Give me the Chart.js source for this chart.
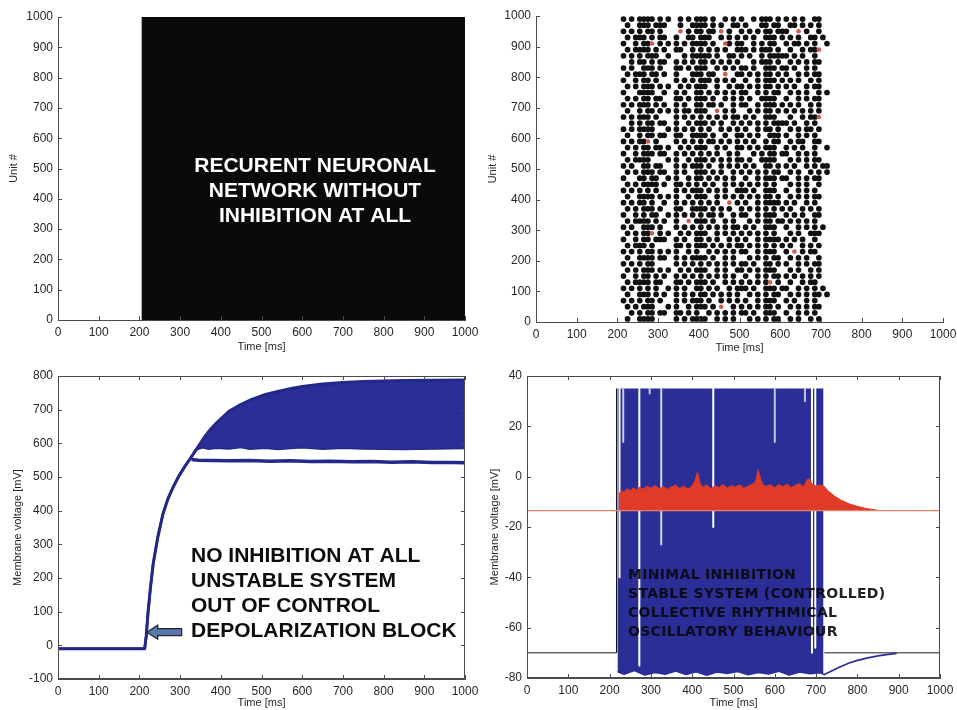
<!DOCTYPE html>
<html>
<head>
<meta charset="utf-8">
<script src="https://cdn.jsdelivr.net/npm/chart.js@4.4.0/dist/chart.umd.min.js"></script>
<style>
  html, body { margin: 0; padding: 0; background: #fff; }
  body { width: 957px; height: 710px; position: relative; overflow: hidden; }
  .panel { position: absolute; }
  canvas { display: block; }
</style>
</head>
<body>
<div class="panel" style="left:0;top:0"><canvas id="rasterNoInh" width="478" height="360"></canvas></div>
<div class="panel" style="left:478px;top:0"><canvas id="rasterMinInh" width="479" height="360"></canvas></div>
<div class="panel" style="left:0;top:360px"><canvas id="vmNoInh" width="478" height="350"></canvas></div>
<div class="panel" style="left:478px;top:360px"><canvas id="vmMinInh" width="479" height="350"></canvas></div>

<script>
// ---- shared axes data ----
const timeTicks = [0, 100, 200, 300, 400, 500, 600, 700, 800, 900, 1000];
const unitCount = 1000;

// ---- raster, no inhibition: every unit fires continuously after onset ----
const burstOnset = 205;
const simEnd = 1000;
const captionNoInh = ['RECURENT NEURONAL', 'NETWORK WITHOUT', 'INHIBITION AT ALL'];

// ---- raster, minimal inhibition ----
// one row per 20 units (top to bottom), one column per 10 ms bin;
// 'o' excitatory spike, 'r' inhibitory spike, '.' silent
const rasterBins = [215, 225, 235, 245, 255, 265, 275, 285, 295, 305,
                    315, 325, 335, 345, 355, 365, 375, 385, 395, 405,
                    415, 425, 435, 445, 455, 465, 475, 485, 495, 505,
                    515, 525, 535, 545, 555, 565, 575, 585, 595, 605,
                    615, 625, 635, 645, 655, 665, 675, 685, 695, 705, 715];
const rasterUnits = [990, 970, 950, 930, 910, 890, 870, 850, 830, 810,
                     790, 770, 750, 730, 710, 690, 670, 650, 630, 610,
                     590, 570, 550, 530, 510, 490, 470, 450, 430, 410,
                     390, 370, 350, 330, 310, 290, 270, 250, 230, 210,
                     190, 170, 150, 130, 110, 90, 70, 50, 30, 10];
const rasterRows = [
  "o.o.oooo.o .o..o.o.oo o.o..o.o.o ..o.ooo.o. o.o.o..oo. .",
  ".o..ooo.oo o...o..ooo o.o.o..oo. o...oo.oo. .oo.o.o.o. .",
  "o.o.o.oo.o ....r.o.oo .oo.r.o..o .o.o.oo.oo o..r.o..o. .",
  ".o.ooo.o.o o..o..oo.o oo..o.o.o. o.o..ooo.o .o.o..oo.o .",
  "o..o.oor.o .o.o.o.ooo o.o..ro.oo ..o.o.oo.. o.oo.o.o.. o",
  ".o.oooo.o. o..oo..o.o .o.o.o..oo o.o.ooo.o. .o..o.oor. .",
  "o.o.o.ooo. .o...o.ooo oo.o..oo.o .o..o.oooo o.o.o..o.. .",
  "..o.oo.o.o o..o.o.o.o o.o.o.o.o. ..o.ooo.o. .o.o.o.oo. .",
  "o.o..ooo.o ...oo.o.oo o..o.o.o.o o.o..ooo.o o.o..o.o.. .",
  ".o.ooo.oo. o..o...ooo .oo..r..oo .o.o.oo.o. o..o.o.oo. .",
  "o..o.oo.o. ...o.o.o.o oo.o.o.o.. o..o.ooo.o .o.o..o.o. .",
  ".o.o.ooo.o .o..o.o.oo o..o..o.oo .o.o.oo.o. o.o..o.oo. .",
  "o...oooo.. o..o.o..oo .o.o.o.o.o o..o.o.oo. .o.o.o..o. o",
  ".o.o.oo.oo ...oo.o.oo o.o..o.o.o .o..oooo.. o..o.o.oo. .",
  "o.o.ooo.o. o..o.o..oo .oo.o..o.o o..o.ooo.o .o.o..o.o. .",
  ".o..o.oo.o .o.o.oo.oo o..r.o.o.. .o.o.oo.o. o.o.o.o.o. .",
  "o.o.ooo.o. ...o.o.o.o .o.o.o.oo. o.o..ooo.. .o..o.oor. .",
  "..o.o.oo.o o..o..o.oo o.o.o..o.o .o.o.o.ooo o.o..o.o.. .",
  "o.o.oooo.. .o.o.o.o.o .o..o.o.o. o..o.oo.o. .o.o.oo.o. .",
  ".o..o.oo.o o..oo..ooo o.o..o..oo .o.o..ooo. o..o.o.o.. .",
  "o.o.oor.o. ...o.o.o.o .oo.o.o.o. o.o..o.oo. .o.oo..oo. .",
  ".o.o.oo.oo .o..o.o.oo o..o.o..oo .o.o.ooo.. o.o.o..o.. o",
  "o..o.ooo.o o..o.o.o.o .o.o..o.o. ..o.o.oo.o o..o.o.o.. .",
  ".o.oooo... .o.o..o.oo o.o.o.o.oo .o..oooo.. .o.o.o.oo. .",
  "o.o..oo.oo ...o.o.ooo .o..o.o.o. o.o..oo.o. o.o..o.o.o o",
  ".o.o.ooo.o o..o.o..oo o.o.o..o.o .o.o.o.oo. .o.o..o.o. o",
  "o...oo.oo. .o.o..o.oo .o.o.o.o.. o..o.ooo.o o..o.o.oo. .",
  ".o.o.oooo. o..oo.o.o. o.o..o.o.o .o.o.o.o.. .o.o.o..o. .",
  "o.o.o.o.o. ...o.o.ooo .o.o.o..oo o.o..ooo.. o..o.o.o.. .",
  ".o..oooo.o .o.o..o.oo o..o.o.o.o .o.o.oo.o. .o.o.o.oo. .",
  "o.o.oo.o.. o..o.o.o.o .o.o..r.o. o..o.oooo. o.o..o.o.. .",
  ".o.o.ooo.o ...oo..ooo o.o.o.o..o .o.o.o.o.o .o..o.o.o. .",
  "o..o.o.oo. .o.o.o.o.o .oo.o..o.o o..o.ooo.. o.o.o..oo. .",
  ".o.oooo.o. o..o..r.oo o.o..o.o.. .o.o.oo.oo .o.o.o.o.. .",
  "o.o..ooo.o ...o.o.o.o .o.o.o.oo. o.o..ooo.. o..o.o.o.o .",
  ".o.o.oor.o .o..o.o.oo o..o.o.o.o .o.o.o.o.. .o.o..ooo. .",
  "o..o.oo.oo o..o.o..oo .o.o..o.o. o..o.oooo. o.o.o..o.. .",
  ".o.ooo.o.. ...oo.o.oo o.o.o.o.oo .o.o.o.o.o .o..o.o.o. .",
  "o.o.o.oo.o .o.o..o.o. .o.o.o.o.o o..o.ooo.. o.r.o.oo.. .",
  ".o..oooo.o o..o.o.ooo o.o..o.o.. .o.o.o.oo. .o.o.o..o. .",
  "o.o.o.oo.. ...o.o.o.o .o.o.o.o.o o.o..oo.o. o..o.o.oo. .",
  ".o.o.ooo.o .o..o.o.oo o..o.o..oo .o.o.ooo.. .o.o..o.o. .",
  "o..o.oo.o. o..o.o.o.o .o.o.o.o.. o..o.o.oo. o.o.o.o.o. .",
  ".o.oooo.oo ...oo.o.oo o.o..o.o.o .o.o.or.o. .o..o.oo.. .",
  "o.o.o.o.o. .o.o.o..oo .o.o..o.oo o.o..ooo.o o..o.o.o.o .",
  ".o..ooo.o. o..o.o.o.o o.o.o.o.o. .o.o.o.oo. .o.o.o.oo. o",
  "o.o.o.oo.o ...o.o.ooo .o..o.o.o. o..o.ooo.. o.o..o.o.. .",
  ".o.o.ooo.. .o.o..o.oo o.o.r..o.o .o.o.oo.o. .o.o.o.oo. .",
  "..o.o.oo.o o..oo.o.o. .o.o.o.o.o o.o..ooo.. o..o.o.o.. .",
  ".o..oooo.. ...o.o.ooo o..o.o.o.. .o.o.o.oo. .o.o..o.o. ."
];

// ---- membrane voltage, no inhibition ----
const vmTimes  = [0, 213, 217, 221, 227, 234, 245, 258, 270, 283, 297, 311, 325, 340, 355,
                  370, 389, 420, 450, 471, 510, 540, 570, 600, 650, 700, 750, 850, 1000];
const vmUpper  = [-10, -10, 30, 94, 170, 243, 320, 391, 435, 470, 503, 530, 555, 582, 610,
                  635, 660, 695, 716, 728, 745, 754, 762, 769, 776, 781, 784, 787, 788];
const vmLower  = [-10, -10, 30, 94, 170, 243, 320, 391, 435, 470, 503, 530, 555, 582, 588,
                  584, 587, 585, 589, 584, 587, 583, 586, 588, 584, 587, 585, 583, 586];
const blockTraceTimes = [328, 345, 380, 420, 470, 520, 570, 620, 670, 720, 770, 820, 870, 920, 970, 1000];
const blockTraceVm    = [552, 550, 549, 548, 549, 547, 548, 546, 547, 545, 546, 544, 545, 543, 543, 542];
const captionNoInhVm = ['NO INHIBITION AT ALL', 'UNSTABLE SYSTEM', 'OUT OF CONTROL', 'DEPOLARIZATION BLOCK'];

// ---- membrane voltage, minimal inhibition ----
const excRest = -70;
const inhRest = -13.5;
const spikePeak = 35;
const restSpans = [[0, 217], [720, 1000]];
const firstSpikeTime = 217;
const burstTimes = [219, 235, 260, 285, 310, 335, 360, 385, 410, 435, 460,
                    485, 510, 535, 560, 585, 610, 635, 660, 685, 710, 718];
const burstFloor = [-77.5, -78.5, -77, -78.8, -77.8, -78.5, -77.2, -78.6, -77.5, -78.9, -77.6,
                    -78.2, -77.4, -78.7, -77.8, -78.4, -77.3, -78.8, -77.6, -78.3, -77.9, -78.5];
const recoveryTimes = [718, 730, 745, 760, 780, 800, 825, 850, 875, 895];
const recoveryVm    = [-78.8, -77.8, -76.6, -75.4, -74.0, -73.0, -72.0, -71.2, -70.6, -70.2];
// silent moments in the burst: time, lowest voltage reached, shade
const gapTimes = [224, 233, 272, 297, 325, 451, 600, 673, 690, 698];
const gapLows  = [-40, 13.8, -75, 33, -27, -20, 13.8, 30, -70, -68];
const gapShade = ['#ffffff', '#c9cbe0', '#ffffff', '#c9cbe0', '#d8d8e4', '#ffffff', '#c0c2d8', '#c0c2d8', '#ffffff', '#ffffff'];
const inhTimes = [222, 228, 235, 242, 250, 258, 265, 273, 280, 290, 300, 310, 320, 330, 340,
                  350, 360, 370, 380, 390, 400, 407, 413, 419, 425, 435, 445, 455, 465, 475,
                  485, 495, 505, 515, 525, 535, 545, 553, 560, 565, 570, 578, 590, 600, 610,
                  620, 630, 640, 650, 660, 670, 678, 684, 690, 700, 710, 718, 730, 745, 760,
                  780, 800, 820, 840, 855];
const inhTop   = [-7, -5.5, -6.2, -4.8, -5.6, -4.4, -5.3, -4.1, -5.0, -3.8, -4.6, -3.5, -4.8, -3.9, -5.1,
                  -4.0, -3.4, -4.7, -3.8, -4.9, -3.6, -1.5, 1.8, -2.5, -4.2, -3.3, -4.8, -3.7, -4.3, -3.1,
                  -4.5, -3.6, -4.1, -3.2, -4.6, -3.8, -3.0, -2.2, 2.8, -0.5, -2.8, -3.9, -3.2, -4.4, -3.1,
                  -4.0, -2.9, -4.3, -3.4, -2.8, -4.0, -1.2, -0.8, -2.9, -3.8, -3.3, -3.6, -5.8, -7.8, -9.3,
                  -10.8, -11.8, -12.6, -13.1, -13.5];
const captionMinInh = ['MINIMAL INHIBITION', 'STABLE SYSTEM (CONTROLLED)', 'COLLECTIVE RHYTHMICAL', 'OSCILLATORY BEHAVIOUR'];

// ---- styling ----
const FONT = "'Liberation Sans', Arial, Helvetica, sans-serif";
const INK = '#262626';
const AXIS = '#4a4a4a';
const BLUE = 'rgb(42, 46, 150)';
const DEEP_BLUE = 'rgb(36, 40, 136)';
const RED = 'rgb(224, 58, 40)';

const xy = (xs, ys) => xs.map((x, i) => ({ x, y: ys[i] }));
const plain = v => String(v);

function timeAxis(height, titlePad) {
  return {
    type: 'linear', min: 0, max: 1000,
    afterBuildTicks: s => { s.ticks = timeTicks.map(v => ({ value: v })); },
    ticks: { color: INK, font: { family: FONT, size: 12 }, padding: 5, maxRotation: 0, autoSkip: false, callback: plain },
    grid: { display: false, drawTicks: false },
    border: { display: true, color: AXIS, width: 1 },
    title: { display: true, text: 'Time [ms]', color: INK, font: { family: FONT, size: 11 }, padding: { top: 0, bottom: titlePad } },
    // keep the plot width fixed; the layout padding leaves room for the end labels
    afterFit: s => { s.height = height; s.paddingLeft = 0; s.paddingRight = 0; }
  };
}

function valueAxis(min, max, step, label, width, titlePad) {
  return {
    type: 'linear', min, max,
    ticks: { stepSize: step, color: INK, font: { family: FONT, size: 12 }, padding: 5, callback: plain },
    grid: { display: false, drawTicks: false },
    border: { display: true, color: AXIS, width: 1 },
    title: { display: true, text: label, color: INK, font: { family: FONT, size: 11 }, padding: { top: titlePad, bottom: 0 } },
    afterFit: s => { s.width = width; }
  };
}

// MATLAB-like inward tick marks, optionally with a full frame
function inwardTicks(box) {
  return {
    id: 'inwardTicks',
    afterDatasetsDraw(chart) {
      const { ctx, chartArea: a, scales: { x, y } } = chart;
      const len = 4;
      ctx.save();
      ctx.strokeStyle = AXIS;
      ctx.lineWidth = 1;
      ctx.beginPath();
      x.ticks.forEach(t => {
        const p = Math.round(x.getPixelForValue(t.value)) + 0.5;
        ctx.moveTo(p, a.bottom); ctx.lineTo(p, a.bottom - len);
        if (box) { ctx.moveTo(p, a.top); ctx.lineTo(p, a.top + len); }
      });
      y.ticks.forEach(t => {
        const p = Math.round(y.getPixelForValue(t.value)) + 0.5;
        ctx.moveTo(a.left, p); ctx.lineTo(a.left + len, p);
        if (box) { ctx.moveTo(a.right, p); ctx.lineTo(a.right - len, p); }
      });
      if (box) ctx.rect(a.left + 0.5, a.top + 0.5, a.right - a.left - 1, a.bottom - a.top - 1);
      ctx.stroke();
      ctx.restore();
    }
  };
}

function notes(draw) {
  return {
    id: 'notes',
    afterDraw(chart) {
      const ctx = chart.ctx;
      ctx.save();
      draw(ctx, chart);
      ctx.restore();
    }
  };
}

function baseOptions(padding, scales) {
  return {
    responsive: false,
    animation: false,
    devicePixelRatio: 1,
    events: [],
    layout: { padding },
    elements: { point: { radius: 0 }, line: { tension: 0, borderJoinStyle: 'round' } },
    plugins: { legend: { display: false }, tooltip: { enabled: false } },
    scales
  };
}

// ---- panel 1: raster without inhibition ----
new Chart(document.getElementById('rasterNoInh'), {
  type: 'line',
  data: {
    datasets: [{
      data: [{ x: burstOnset, y: unitCount }, { x: simEnd, y: unitCount }],
      borderWidth: 0,
      backgroundColor: '#0a0a0a',
      fill: { value: 0 }
    }]
  },
  options: baseOptions({ top: 17, right: 13, left: 0, bottom: 0 }, {
    x: timeAxis(40, 6.4),
    y: valueAxis(0, 1000, 100, 'Unit #', 58, 7.4)
  }),
  plugins: [inwardTicks(false), notes(ctx => {
    ctx.font = 'bold 21px ' + FONT;
    ctx.fillStyle = '#ffffff';
    ctx.textAlign = 'center';
    ctx.textBaseline = 'middle';
    captionNoInh.forEach((s, i) => ctx.fillText(s, 315, 166 + i * 25));
  })]
});

// ---- panel 2: raster with minimal inhibition ----
const excSpikes = [];
const inhSpikes = [];
rasterRows.forEach((row, r) => {
  const cells = row.replace(/ /g, '');
  for (let i = 0; i < cells.length && i < rasterBins.length; i++) {
    if (cells[i] === 'o') excSpikes.push({ x: rasterBins[i], y: rasterUnits[r] });
    else if (cells[i] === 'r') inhSpikes.push({ x: rasterBins[i], y: rasterUnits[r] });
  }
});

new Chart(document.getElementById('rasterMinInh'), {
  type: 'scatter',
  data: {
    datasets: [
      { data: inhSpikes, pointRadius: 2.3, backgroundColor: 'rgb(205, 95, 80)', borderWidth: 0, order: 1 },
      { data: excSpikes, pointRadius: 2.85, backgroundColor: '#111111', borderWidth: 0, order: 2 }
    ]
  },
  options: baseOptions({ top: 16, right: 14, left: 0, bottom: 0 }, {
    x: timeAxis(38, 5.4),
    y: valueAxis(0, 1000, 100, 'Unit #', 58, 8.4)
  }),
  plugins: [inwardTicks(false)]
});

// ---- panel 3: membrane voltage without inhibition ----
new Chart(document.getElementById('vmNoInh'), {
  type: 'line',
  data: {
    datasets: [
      { data: xy(vmTimes, vmUpper), borderColor: DEEP_BLUE, borderWidth: 3, backgroundColor: BLUE, fill: 1, order: 2 },
      { data: xy(vmTimes, vmLower), borderColor: DEEP_BLUE, borderWidth: 2.5, order: 2 },
      { data: xy(blockTraceTimes, blockTraceVm), borderColor: DEEP_BLUE, borderWidth: 3.5, order: 1 }
    ]
  },
  options: baseOptions({ top: 16, right: 13, left: 0, bottom: 0 }, {
    x: timeAxis(31, 0.4),
    y: valueAxis(-100, 800, 100, 'Membrane voltage [mV]', 58, 11.4)
  }),
  plugins: [inwardTicks(true), notes((ctx, chart) => {
    const { x, y } = chart.scales;
    // arrow pointing at the onset of the runaway depolarisation
    const tipX = x.getPixelForValue(218), tailX = x.getPixelForValue(304), cy = y.getPixelForValue(39);
    ctx.beginPath();
    ctx.moveTo(tipX, cy);
    ctx.lineTo(tipX + 11, cy - 7);
    ctx.lineTo(tipX + 11, cy - 3.5);
    ctx.lineTo(tailX, cy - 3.5);
    ctx.lineTo(tailX, cy + 3.5);
    ctx.lineTo(tipX + 11, cy + 3.5);
    ctx.lineTo(tipX + 11, cy + 7);
    ctx.closePath();
    ctx.fillStyle = 'rgb(88, 118, 168)';
    ctx.fill();
    ctx.strokeStyle = '#1e2538';
    ctx.lineWidth = 1.2;
    ctx.stroke();

    ctx.font = 'bold 21px ' + FONT;
    ctx.fillStyle = '#0d0d0d';
    ctx.textAlign = 'left';
    ctx.textBaseline = 'middle';
    captionNoInhVm.forEach((s, i) => ctx.fillText(s, 191, 196.5 + i * 25));
  })]
});

// ---- panel 4: membrane voltage with minimal inhibition ----
const gapSets = gapTimes.map((t, i) => ({
  data: [{ x: t, y: spikePeak }, { x: t, y: gapLows[i] }],
  borderColor: gapShade[i], borderWidth: 2, order: 6
}));
const restSets = restSpans.map(([a, b]) => ({
  data: [{ x: a, y: excRest }, { x: b, y: excRest }],
  borderColor: '#1a1a1a', borderWidth: 1, order: 9
}));

new Chart(document.getElementById('vmMinInh'), {
  type: 'line',
  data: {
    datasets: [
      { data: burstTimes.map(t => ({ x: t, y: spikePeak })), borderWidth: 0, backgroundColor: BLUE, fill: 1, order: 8 },
      { data: xy(burstTimes, burstFloor), borderColor: BLUE, borderWidth: 1.5, order: 8 },
      ...restSets,
      { data: xy(recoveryTimes, recoveryVm), borderColor: BLUE, borderWidth: 1.6, order: 7 },
      ...gapSets,
      { data: [{ x: firstSpikeTime, y: excRest }, { x: firstSpikeTime, y: spikePeak }], borderColor: '#111', borderWidth: 1.2, order: 5 },
      { data: xy(inhTimes, inhTop), borderColor: RED, borderWidth: 1, backgroundColor: RED, fill: { value: inhRest }, order: 4 },
      { data: [{ x: 0, y: inhRest }, { x: 1000, y: inhRest }], borderColor: 'rgb(226, 130, 105)', borderWidth: 1.2, order: 3 }
    ]
  },
  options: baseOptions({ top: 16, right: 17, left: 0, bottom: 0 }, {
    x: timeAxis(32, 0.4),
    y: valueAxis(-80, 40, 20, 'Membrane voltage [mV]', 49, 10.4)
  }),
  plugins: [inwardTicks(true), notes(ctx => {
    ctx.font = 'bold 14px "DejaVu Sans", ' + FONT;
    ctx.letterSpacing = '0.3px';
    ctx.fillStyle = 'rgba(8, 8, 12, 0.9)';
    ctx.textAlign = 'left';
    ctx.textBaseline = 'middle';
    captionMinInh.forEach((s, i) => ctx.fillText(s, 150, 215 + i * 19));
  })]
});
</script>
</body>
</html>
